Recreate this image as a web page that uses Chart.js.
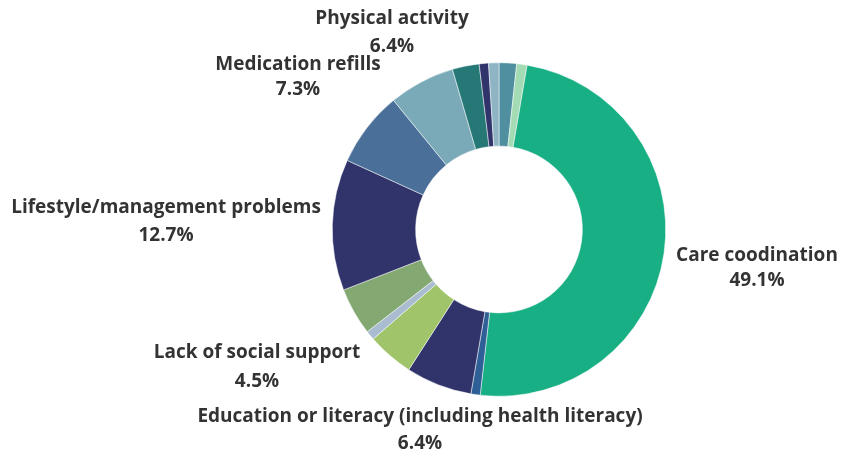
<!DOCTYPE html>
<html>
<head>
<meta charset="utf-8">
<script src="https://cdn.jsdelivr.net/npm/chart.js@4.4.1/dist/chart.umd.min.js"></script>
<style>
  html, body { margin: 0; padding: 0; background: #ffffff; }
  #wrap { width: 854px; height: 456px; position: relative; }
</style>
</head>
<body>
<div id="wrap"><canvas id="c" width="854" height="456"></canvas></div>
<script>
// ---- data (clockwise from 12 o'clock) ----
const categories = [
  'Other (a)', 'Other (b)', 'Care coodination', 'Other (c)',
  'Education or literacy (including health literacy)', 'Lack of social support',
  'Other (d)', 'Other (e)', 'Lifestyle/management problems', 'Medication refills',
  'Physical activity', 'Other (f)', 'Other (g)', 'Other (h)'
];
const values = [1.7, 1.0, 49.1, 0.9, 6.4, 4.5, 0.9, 4.6, 12.7, 7.3, 6.4, 2.6, 0.9, 1.0];
const labelled = [false, false, true, false, true, true, false, false, true, true, true, false, false, false];

// ---- styles ----
const colors = [
  '#4f8fa0', '#a3dcb4', '#19af85', '#2e5f96',
  '#31346b', '#a0c46a', '#aabdd0', '#84a872',
  '#31346b', '#4a6f98', '#7aaab8', '#267877',
  '#31346b', '#8fb5c5'
];
// label anchor (centre x, centre y of the name line), keyed by category
const labelPos = {
  'Care coodination': [757, 256],
  'Education or literacy (including health literacy)': [420, 417],
  'Lack of social support': [257, 353],
  'Lifestyle/management problems': [166, 208],
  'Medication refills': [298, 65],
  'Physical activity': [392, 19]
};
const valueGap = {
  'Care coodination': 25,
  'Education or literacy (including health literacy)': 27,
  'Lack of social support': 29,
  'Lifestyle/management problems': 28,
  'Medication refills': 25,
  'Physical activity': 28
};

const labelPlugin = {
  id: 'sliceLabels',
  afterDraw(chart) {
    const ctx = chart.ctx;
    ctx.save();
    ctx.fillStyle = '#333333';
    ctx.textAlign = 'center';
    ctx.textBaseline = 'middle';
    ctx.font = 'bold 19px "Open Sans"';
    categories.forEach((name, i) => {
      if (!labelled[i]) return;
      const p = labelPos[name];
      ctx.fillText(name, p[0], p[1]);
      ctx.fillText(values[i].toFixed(1) + '%', p[0], p[1] + valueGap[name]);
    });
    ctx.restore();
  }
};

new Chart(document.getElementById('c'), {
  type: 'doughnut',
  data: {
    labels: categories,
    datasets: [{
      data: values,
      backgroundColor: colors,
      borderWidth: 0.5,
      borderColor: '#ffffff'
    }]
  },
  options: {
    responsive: false,
    animation: false,
    cutout: '50%',
    rotation: 0,
    layout: { padding: { left: 332, right: 188, top: 62.5, bottom: 59.5 } },
    plugins: { legend: { display: false }, tooltip: { enabled: false } }
  },
  plugins: [labelPlugin]
});
</script>
</body>
</html>
